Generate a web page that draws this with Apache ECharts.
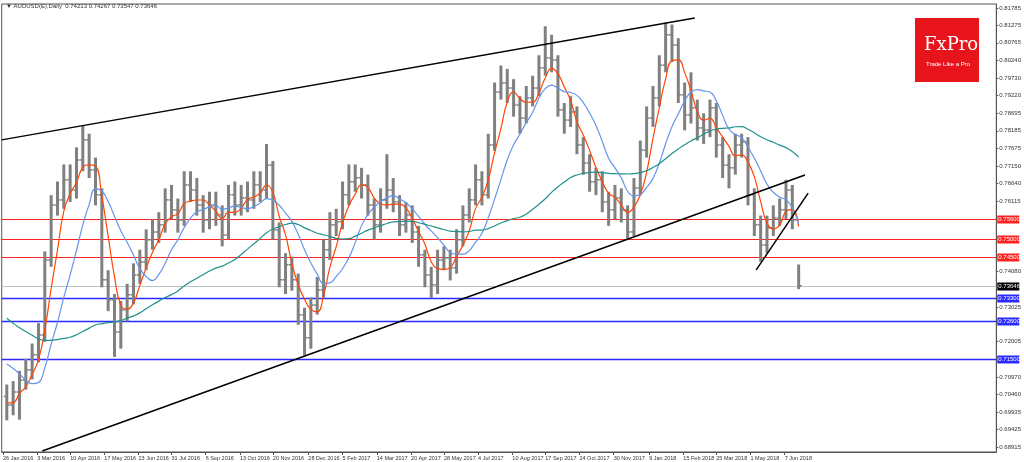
<!DOCTYPE html>
<html>
<head>
<meta charset="utf-8">
<script src="https://cdn.jsdelivr.net/npm/echarts@6/dist/echarts.min.js"></script>
<style>html,body{margin:0;padding:0;background:#fff}#chart{width:1024px;height:462px}</style>
</head>
<body>
<div id="chart"></div>
<script>
// weekly bars (week 0 = end of Jan 2016)
var closes = [.7015,.7053,.7088,.7118,.7162,.7220,.7440,.7601,.7616,.7675,.7645,.7733,.7792,.7704,.7631,.7382,.7323,.7229,.7294,.7338,
  .7396,.7434,.7499,.7522,.7543,.7616,.7587,.7557,.7660,.7645,.7601,.7557,.7601,.7572,.7513,.7631,.7601,.7622,.7616,.7660,
  .7645,.7718,.7528,.7382,.7426,.7382,.7279,.7212,.7308,.7352,.7470,.7543,.7552,.7631,.7669,.7681,.7660,.7601,.7543,.7616,
  .7645,.7610,.7543,.7572,.7522,.7455,.7396,.7367,.7440,.7446,.7417,.7499,.7572,.7616,.7675,.7631,.7777,.7932,.7959,.7944,
  .7894,.7856,.7915,.7944,.8003,.8032,.8026,.7880,.7850,.7874,.7777,.7724,.7669,.7675,.7610,.7587,.7622,.7587,.7522,.7651,
  .7762,.7856,.7915,.8011,.8100,.8070,.7924,.7865,.7886,.7827,.7821,.7886,.7777,.7718,.7710,.7777,.7786,.7631,.7543,.7484,
  .7534,.7563,.7587,.7645,.7557,.73646];
var highs = [.7075,.7085,.7115,.7150,.7195,.7255,.7465,.7630,.7670,.7720,.7720,.7770,.7835,.7810,.7740,.7650,.7410,.7340,.7320,.7370,
  .7430,.7470,.7530,.7560,.7580,.7650,.7660,.7620,.7700,.7700,.7680,.7630,.7640,.7640,.7600,.7660,.7670,.7660,.7670,.7700,
  .7700,.7780,.7730,.7550,.7460,.7450,.7400,.7300,.7330,.7390,.7500,.7580,.7590,.7670,.7720,.7720,.7710,.7690,.7620,.7650,
  .7750,.7680,.7630,.7610,.7600,.7540,.7470,.7420,.7470,.7480,.7470,.7530,.7600,.7650,.7720,.7700,.7810,.7960,.8010,.8000,
  .7970,.7920,.7950,.7980,.8040,.8125,.8100,.8040,.7900,.7920,.7890,.7800,.7750,.7710,.7700,.7640,.7660,.7650,.7600,.7680,
  .7790,.7890,.7950,.8040,.8136,.8130,.8090,.7960,.7990,.7910,.7870,.7910,.7900,.7800,.7750,.7810,.7810,.7800,.7650,.7570,
  .7570,.7600,.7620,.7675,.7660,.74267];
var lows = [.6970,.6985,.6972,.7060,.7090,.7140,.7200,.7420,.7570,.7590,.7610,.7620,.7700,.7680,.7600,.7360,.7290,.7156,.7180,.7260,
  .7310,.7370,.7410,.7470,.7490,.7520,.7560,.7520,.7540,.7610,.7570,.7520,.7530,.7540,.7480,.7500,.7570,.7570,.7580,.7590,
  .7610,.7620,.7500,.7360,.7340,.7350,.7250,.7160,.7180,.7280,.7330,.7440,.7510,.7530,.7600,.7640,.7620,.7570,.7500,.7520,
  .7590,.7580,.7510,.7520,.7490,.7420,.7360,.7328,.7340,.7410,.7380,.7400,.7480,.7550,.7600,.7600,.7620,.7760,.7910,.7900,
  .7860,.7810,.7840,.7890,.7920,.7980,.7990,.7860,.7810,.7830,.7750,.7690,.7640,.7630,.7580,.7540,.7560,.7550,.7500,.7510,
  .7630,.7740,.7830,.7890,.7990,.8020,.7900,.7820,.7840,.7790,.7780,.7800,.7740,.7680,.7650,.7690,.7740,.7600,.7510,.7435,
  .7460,.7510,.7540,.7560,.7530,.73547];
var firstOpen = 0.7040;
// weekly closes before the visible range, used only to seed the averages
var leadIn = [.7650,.7640,.7610,.7570,.7600,.7620,.7640,.7570,.7550,.7540,.7500,.7450,.7410,.7300,.7260,.7230,.7200,.7170,.7120,.7050,
  .7130,.7080,.7020,.7050,.7120,.7190,.7250,.7120,.7070,.7150,.7200,.7140,.7170,.7230,.7290,.7250,.7190,.7050,.6980,.7040];
var redLevels = [0.7560, 0.7500, 0.7450];
var blueLevels = [0.7330, 0.7260, 0.7150];
var lastPrice = 0.73646;
var yTicks = [0.68915,0.69425,0.69935,0.70460,0.70970,0.72005,0.73025,0.74080,0.76115,0.76640,0.77150,0.77675,0.78185,0.78695,0.79220,0.79730,0.80240,0.80765,0.81275,0.81785];
var dateTicks = ['2016-01-26','2016-03-03','2016-04-10','2016-05-17','2016-06-23','2016-07-31','2016-09-06','2016-10-13','2016-11-20','2016-12-28',
  '2017-02-05','2017-03-14','2017-04-20','2017-05-28','2017-07-04','2017-08-10','2017-09-17','2017-10-24','2017-11-30','2018-01-09',
  '2018-02-15','2018-03-25','2018-05-01','2018-06-07'];
var months = ['Jan','Feb','Mar','Apr','May','Jun','Jul','Aug','Sep','Oct','Nov','Dec'];
// trend lines [week, price]
var upperLine = [[-0.8, 0.7792], [108.6, 0.8149]];
var lowerLine = [[5.6, 0.6880], [126.0, 0.7689]];
var wedgeLine = [[118.3, 0.7411], [126.5, 0.7636]];
var xMin = -0.8, xMax = 156.2;

// trading weeks from 29 Jan 2016 (weekends skipped like the terminal)
function toWeek(s) {
    var base = new Date('2016-01-29T00:00:00Z'), d = new Date(s + 'T00:00:00Z');
    var step = d < base ? -1 : 1, n = 0, cur = new Date(base);
    while (cur.getTime() != d.getTime()) {
        cur.setUTCDate(cur.getUTCDate() + step);
        var wd = cur.getUTCDay();
        if (wd != 0 && wd != 6) n += step;
    }
    return n / 5;
}
var tickWeeks = dateTicks.map(toWeek);
var tickLabel = {};
dateTicks.forEach(function(s, i) {
    var p = s.split('-');
    tickLabel[tickWeeks[i].toFixed(3)] = (+p[2]) + ' ' + months[+p[1] - 1] + ' ' + p[0];
});

var bars = closes.map(function(c, i) {
    return [i, i == 0 ? firstOpen : closes[i - 1], c, lows[i], highs[i]];
});
function sma(n) {
    var all = leadIn.concat(closes), out = [];
    for (var i = 0; i < closes.length; i++) {
        var k = i + leadIn.length, s = 0;
        for (var j = k - n + 1; j <= k; j++) s += all[j];
        out.push([i, s / n]);
    }
    return out;
}

// levels: [price, kind] -> drawn by a custom series through the y scale
var levelData = [];
redLevels.forEach(function(v) { levelData.push([v, 0]); });
blueLevels.forEach(function(v) { levelData.push([v, 1]); });
levelData.push([lastPrice, 2]);
var levelColor = ['#ff2020', '#2a2aff', '#b8c0c8'];
var tagColor = ['#ff2020', '#2a2aff', '#000'];
var levelWidth = [1, 1.5, 1];

function trendSeries(p) {
    return {type: 'line', data: p, showSymbol: false, silent: true, z: 5, lineStyle: {color: '#000', width: 1.5}};
}

var myChart = echarts.init(document.getElementById('chart'));
var option = {
    animation: false,
    grid: {left: 1, right: 23, top: 4, bottom: 10, show: true, borderColor: '#555', borderWidth: 1},
    xAxis: {
        type: 'value', min: xMin, max: xMax,
        splitLine: {show: false},
        axisLine: {onZero: false, lineStyle: {color: '#555'}},
        axisTick: {show: true, length: 3, customValues: tickWeeks, lineStyle: {color: '#555'}},
        axisLabel: {customValues: tickWeeks, fontSize: 5.5, color: '#333', margin: 3, align: 'left',
            fontFamily: 'Liberation Sans Narrow, Liberation Sans', hideOverlap: false, showMinLabel: true,
            formatter: function(v) { return tickLabel[v.toFixed(3)] || ''; }}
    },
    yAxis: {
        type: 'value', position: 'right', min: 0.68772, max: 0.81902, scale: true,
        splitLine: {show: false},
        axisLine: {show: true, onZero: false, lineStyle: {color: '#555'}},
        axisTick: {show: true, length: 2, customValues: yTicks},
        axisLabel: {customValues: yTicks, fontSize: 6, color: '#333', margin: 3, fontFamily: 'Liberation Sans',
            formatter: function(v) { return v.toFixed(5); }}
    },
    graphic: [
        {type: 'text', left: 6, top: 3, style: {text: '▼ AUDUSD(E),Daily  0.74213 0.74267 0.73547 0.73646', fontSize: 6, fill: '#333', fontFamily: 'Liberation Sans'}},
        {type: 'rect', left: 915, top: 18, shape: {width: 64, height: 64}, style: {fill: '#e8141c'}},
        {type: 'text', left: 924, top: 36, style: {text: 'FxPro', fontSize: 18, fill: '#fff', fontFamily: 'DejaVu Serif'}},
        {type: 'text', left: 926, top: 61, style: {text: 'Trade Like a Pro', fontSize: 6, fill: '#fff', fontFamily: 'Liberation Sans'}}
    ],
    series: [
        {
            type: 'custom', z: 2, silent: true, clip: false,
            renderItem: function(params, api) {
                var v = api.value(0), k = api.value(1);
                var a = api.coord([xMin, v]), b = api.coord([xMax, v]);
                var y = Math.round(a[1]) + 0.5;
                return {type: 'group', children: [
                    {type: 'line', shape: {x1: a[0], y1: y, x2: b[0], y2: y},
                        style: {stroke: levelColor[k], lineWidth: levelWidth[k]}},
                    {type: 'rect', shape: {x: b[0] + 1, y: y - 4, width: 22, height: 8}, style: {fill: tagColor[k]}},
                    {type: 'text', x: b[0] + 2, y: y - 3.5,
                        style: {text: v.toFixed(5), fill: '#fff', fontSize: 6, fontFamily: 'Liberation Sans'}}
                ]};
            },
            encode: {y: 0},
            data: levelData
        },
        {
            type: 'custom', z: 3,
            renderItem: function(params, api) {
                var x = api.value(0);
                var o = api.coord([x, api.value(1)]), c = api.coord([x, api.value(2)]);
                var l = api.coord([x, api.value(3)]), h = api.coord([x, api.value(4)]);
                var st = {stroke: '#808080', lineWidth: 3};
                return {type: 'group', children: [
                    {type: 'line', shape: {x1: l[0], y1: l[1], x2: h[0], y2: h[1]}, style: st},
                    {type: 'line', shape: {x1: o[0] - 3, y1: o[1], x2: o[0], y2: o[1]}, style: {stroke: '#808080', lineWidth: 1.5}},
                    {type: 'line', shape: {x1: c[0], y1: c[1], x2: c[0] + 3, y2: c[1]}, style: {stroke: '#808080', lineWidth: 1.5}}
                ]};
            },
            encode: {x: 0, y: [1, 2, 3, 4]},
            data: bars
        },
        {name: 'fast', type: 'line', data: sma(4), smooth: true, showSymbol: false, z: 4, lineStyle: {color: '#ff4500', width: 1.2}},
        {name: 'mid', type: 'line', data: sma(9), smooth: true, showSymbol: false, z: 4, lineStyle: {color: '#6495ed', width: 1.2}},
        {name: 'slow', type: 'line', data: sma(40), smooth: true, showSymbol: false, z: 4, lineStyle: {color: '#20908a', width: 1.2}},
        trendSeries(upperLine), trendSeries(lowerLine), trendSeries(wedgeLine)
    ]
};
myChart.setOption(option);
</script>
</body>
</html>
